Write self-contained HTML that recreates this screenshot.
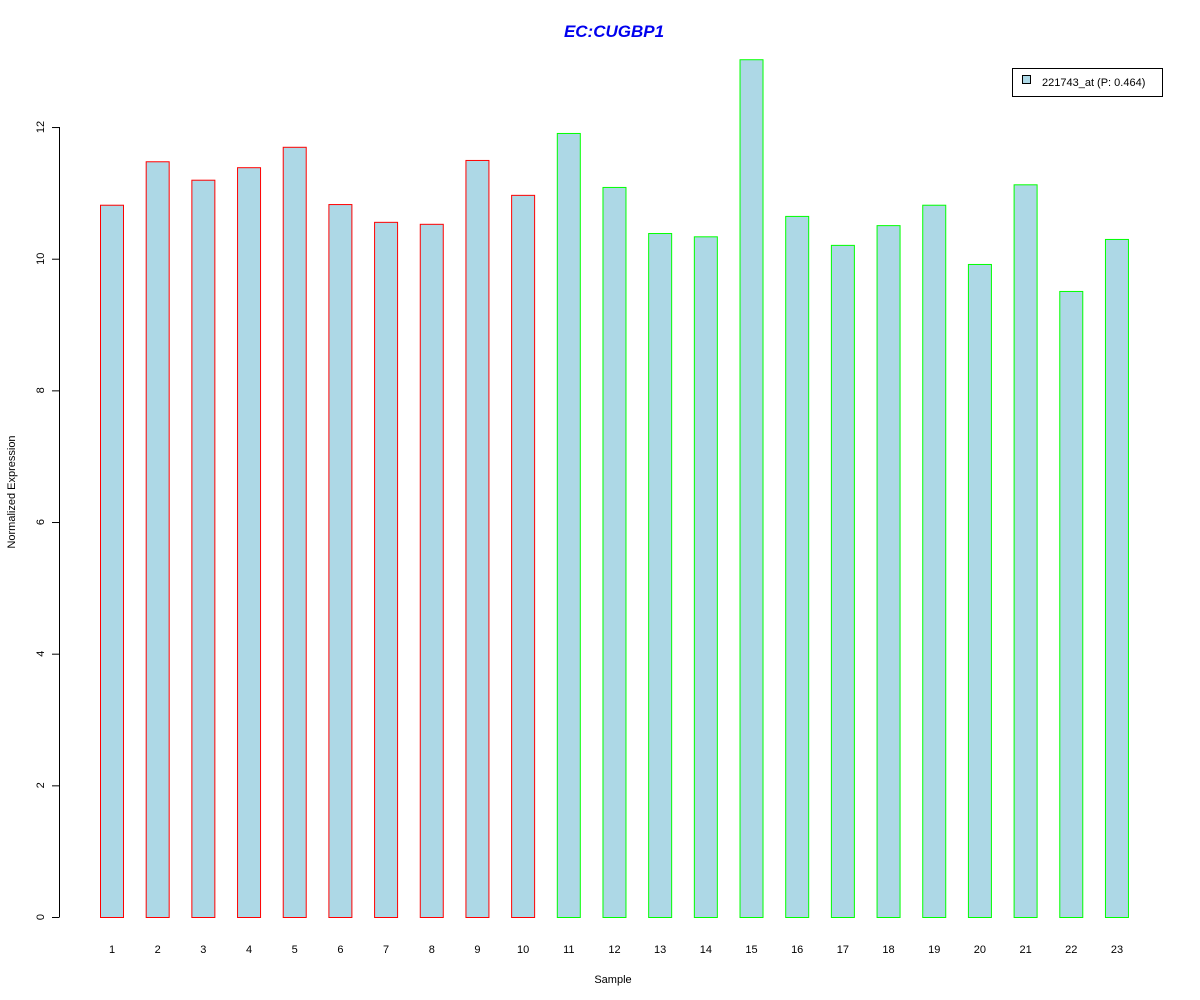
<!DOCTYPE html>
<html><head><meta charset="utf-8"><style>body{margin:0;background:#fff}svg{display:block;font-family:"Liberation Sans",Arial,sans-serif}</style></head>
<body>
<svg id="chart" width="1200" height="1000" viewBox="0 0 1200 1000">
<rect width="1200" height="1000" fill="#fff"/>
<text x="614" y="37" text-anchor="middle" font-size="17" font-weight="bold" font-style="italic" fill="#0000ee">EC:CUGBP1</text>
<g id="bars"></g>
<g id="yaxis"></g>
<g id="xaxis"></g>
<text transform="translate(15,492) rotate(-90)" text-anchor="middle" font-size="11">Normalized Expression</text>
<text x="613" y="983" text-anchor="middle" font-size="11">Sample</text>
<g>
<rect x="1012.5" y="68.5" width="150" height="28" fill="#fff" stroke="#000"/>
<rect x="1022.5" y="75.5" width="8" height="8" fill="#add8e6" stroke="#000"/>
<text x="1042" y="86" font-size="11">221743_at (P: 0.464)</text>
</g>
</svg>
<script>
const categories = ["1","2","3","4","5","6","7","8","9","10","11","12","13","14","15","16","17","18","19","20","21","22","23"];
const values = [10.82,11.48,11.20,11.39,11.70,10.83,10.56,10.53,11.50,10.97,11.91,11.09,10.39,10.34,13.03,10.65,10.21,10.51,10.82,9.92,11.13,9.51,10.30];
const groups = ["a","a","a","a","a","a","a","a","a","a","b","b","b","b","b","b","b","b","b","b","b","b","b"];
const yTicks = [0,2,4,6,8,10,12];
const NS="http://www.w3.org/2000/svg";
const y = v => 917 - v*65.83;
const x = i => 100 + i*45.68;
const bw = 23;
const bars=document.getElementById('bars');
values.forEach((v,i)=>{
  const r=document.createElementNS(NS,'rect');
  
  
  r.setAttribute('x',x(i)+0.5);r.setAttribute('y',y(v)+0.5);
  r.setAttribute('width',bw);r.setAttribute('height',y(0)-y(v));
  r.setAttribute('fill','#add8e6');
  r.setAttribute('stroke',groups[i]==='a'?'#ff0000':'#00ff00');
  bars.appendChild(r);
  const t=document.createElementNS(NS,'text');
  
  
  t.setAttribute('x',x(i)+bw/2+0.5);t.setAttribute('y',953);
  t.setAttribute('text-anchor','middle');t.setAttribute('font-size','11');
  t.textContent=categories[i];
  document.getElementById('xaxis').appendChild(t);
});
const ya=document.getElementById('yaxis');
const ln=document.createElementNS(NS,'line');


ln.setAttribute('x1',59.5);ln.setAttribute('x2',59.5);ln.setAttribute('y1',y(yTicks[0]));ln.setAttribute('y2',y(yTicks[yTicks.length-1]));ln.setAttribute('stroke','#000');
ya.appendChild(ln);
yTicks.forEach(v=>{
  const tk=document.createElementNS(NS,'line');
  
  
  tk.setAttribute('x1',52);tk.setAttribute('x2',59.5);tk.setAttribute('y1',y(v)+0.5);tk.setAttribute('y2',y(v)+0.5);tk.setAttribute('stroke','#000');
  ya.appendChild(tk);
  const t=document.createElementNS(NS,'text');
  
  
  t.setAttribute('transform','translate(44,'+y(v)+') rotate(-90)');
  t.setAttribute('text-anchor','middle');t.setAttribute('font-size','11');
  t.textContent=v;
  ya.appendChild(t);
});
</script>
</body></html>
